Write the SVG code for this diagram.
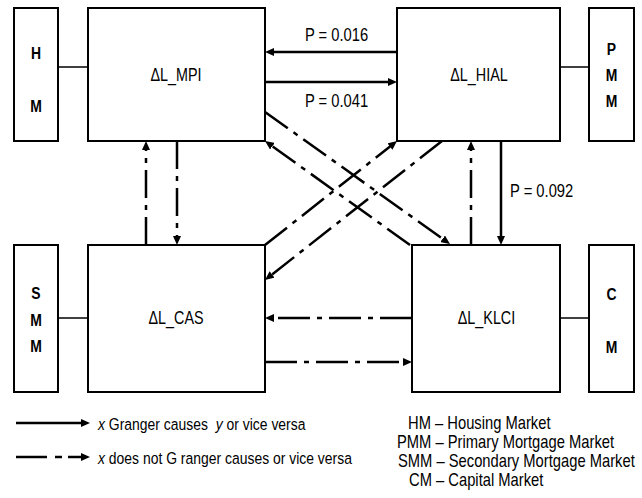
<svg xmlns="http://www.w3.org/2000/svg" width="642" height="498" viewBox="0 0 642 498">
<style>
text{font-family:"Liberation Sans",Arial,sans-serif;fill:#000}
.box{fill:#fff;stroke:#000;stroke-width:2}
.lbl{font-size:17.5px;text-anchor:middle}
.mk{font-size:17px;font-weight:bold;text-anchor:middle}
.p{font-size:18px}
.leg{font-size:17px}
.leg2{font-size:18px}
.solid{stroke:#000;stroke-width:2.5;fill:none}
.dd{stroke:#000;stroke-width:2.5;fill:none;stroke-dasharray:28 7 5 7}
.ddh{stroke:#000;stroke-width:2.5;fill:none;stroke-dasharray:32 7 5 7}
.thin{stroke:#000;stroke-width:1.5}
</style>
<defs>
<marker id="ah" viewBox="0 0 9 8" markerWidth="9" markerHeight="8" refX="3" refY="4" orient="auto" markerUnits="userSpaceOnUse">
<path d="M0,0 L9,4 L0,8 z" fill="#000"/>
</marker>
</defs>

<g id="connectors">
<line class="thin" x1="58" y1="67" x2="88" y2="67"/>
<line class="thin" x1="560" y1="67" x2="589" y2="67"/>
<line class="thin" x1="58" y1="318" x2="88" y2="318"/>
<line class="thin" x1="560" y1="318" x2="589" y2="318"/>

<line class="solid" x1="397" y1="52" x2="271" y2="52" marker-end="url(#ah)"/>
<line class="solid" x1="265" y1="82" x2="391" y2="82" marker-end="url(#ah)"/>
<line class="solid" x1="501" y1="141" x2="501" y2="239" marker-end="url(#ah)"/>

<line class="dd" x1="471" y1="245" x2="471" y2="147" marker-end="url(#ah)"/>
<line class="dd" x1="146" y1="245" x2="146" y2="147" marker-end="url(#ah)"/>
<line class="dd" x1="177" y1="141" x2="177" y2="239" marker-end="url(#ah)"/>
<line class="ddh" x1="412" y1="318" x2="271" y2="318" marker-end="url(#ah)"/>
<line class="ddh" x1="265" y1="362" x2="406" y2="362" marker-end="url(#ah)"/>

<line class="dd" x1="265" y1="112" x2="445.1" y2="240.5" marker-end="url(#ah)"/>
<line class="dd" x1="410" y1="245" x2="269.9" y2="144.5" marker-end="url(#ah)"/>
<line class="dd" x1="265" y1="245" x2="392.3" y2="144.7" marker-end="url(#ah)"/>
<line class="dd" x1="442" y1="141" x2="269.7" y2="276.3" marker-end="url(#ah)"/>
</g>

<g id="labels">
<text class="p" transform="translate(336.5 40.5) scale(0.82 1)" text-anchor="middle">P = 0.016</text>
<text class="p" transform="translate(336.5 107) scale(0.82 1)" text-anchor="middle">P = 0.041</text>
<text class="p" transform="translate(510 197) scale(0.82 1)">P = 0.092</text>
</g>

<g id="node-hm">
<rect class="box" x="14" y="8" width="44" height="133"/>
<text class="mk" transform="translate(36 58.5) scale(0.82 1)">H</text>
<text class="mk" transform="translate(36 112) scale(0.82 1)">M</text>
</g>
<g id="node-mpi">
<rect class="box" x="88" y="8" width="177" height="133"/>
<text class="lbl" transform="translate(176 81) scale(0.82 1)">ΔL_MPI</text>
</g>
<g id="node-hial">
<rect class="box" x="397" y="8" width="163" height="133"/>
<text class="lbl" transform="translate(479 81) scale(0.82 1)">ΔL_HIAL</text>
</g>
<g id="node-pmm">
<rect class="box" x="589" y="8" width="45" height="133"/>
<text class="mk" transform="translate(611.5 55) scale(0.82 1)">P</text>
<text class="mk" transform="translate(611.5 81) scale(0.82 1)">M</text>
<text class="mk" transform="translate(611.5 107) scale(0.82 1)">M</text>
</g>
<g id="node-smm">
<rect class="box" x="14" y="245" width="44" height="147"/>
<text class="mk" transform="translate(36 299) scale(0.82 1)">S</text>
<text class="mk" transform="translate(36 326) scale(0.82 1)">M</text>
<text class="mk" transform="translate(36 352) scale(0.82 1)">M</text>
</g>
<g id="node-cas">
<rect class="box" x="88" y="245" width="177" height="147"/>
<text class="lbl" transform="translate(176 324) scale(0.82 1)">ΔL_CAS</text>
</g>
<g id="node-klci">
<rect class="box" x="412" y="245" width="148" height="147"/>
<text class="lbl" transform="translate(486.5 324) scale(0.82 1)">ΔL_KLCI</text>
</g>
<g id="node-cm">
<rect class="box" x="589" y="245" width="45" height="147"/>
<text class="mk" transform="translate(611.5 300) scale(0.82 1)">C</text>
<text class="mk" transform="translate(611.5 353) scale(0.82 1)">M</text>
</g>

<g id="legend">
<line class="solid" x1="16" y1="423" x2="84" y2="423" marker-end="url(#ah)"/>
<text class="leg" transform="translate(98 429.5) scale(0.82 1)" xml:space="preserve"><tspan font-style="italic">x</tspan> Granger causes  <tspan font-style="italic">y</tspan> or vice versa</text>
<line class="solid" x1="16" y1="457" x2="47" y2="457"/>
<line class="solid" x1="55" y1="457" x2="62" y2="457"/>
<line class="solid" x1="68" y1="457" x2="84" y2="457" marker-end="url(#ah)"/>
<text class="leg" transform="translate(98 463.5) scale(0.82 1)"><tspan font-style="italic">x</tspan> does not G ranger causes or vice versa</text>
<text class="leg2" transform="translate(408 428.5) scale(0.82 1)">HM – Housing Market</text>
<text class="leg2" transform="translate(397 447.5) scale(0.82 1)">PMM – Primary Mortgage Market</text>
<text class="leg2" transform="translate(398 466.5) scale(0.82 1)">SMM – Secondary Mortgage Market</text>
<text class="leg2" transform="translate(409 485.5) scale(0.82 1)">CM – Capital Market</text>
</g>
</svg>
